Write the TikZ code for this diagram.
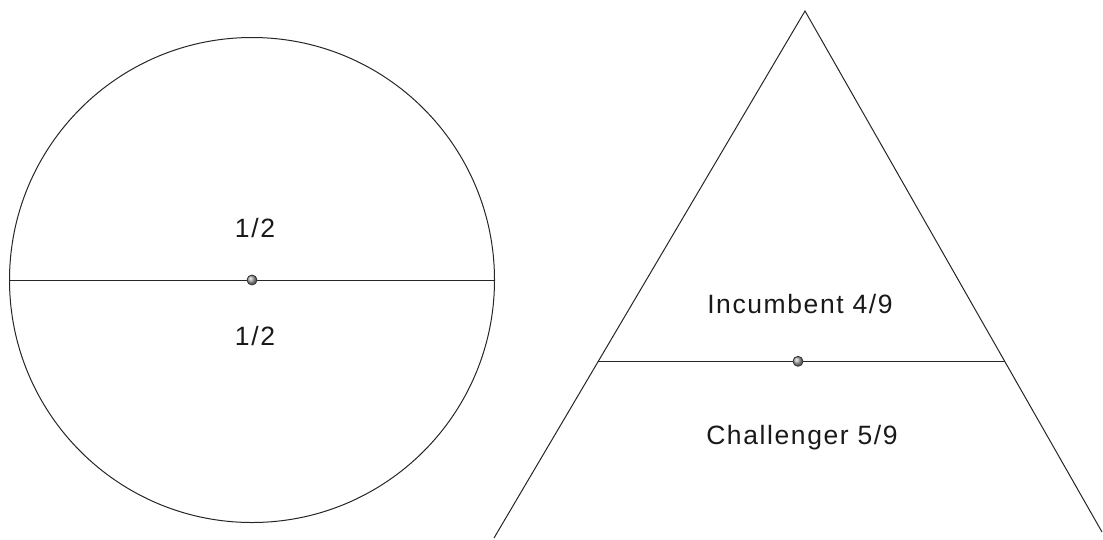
\documentclass[tikz,border=0pt]{standalone}
\usepackage{fontspec}
\setmainfont{Liberation Sans}[LetterSpace=6]
\begin{document}
\begin{tikzpicture}[x=1pt,y=-1pt,
  edge/.style={line width=1pt,draw=black!85},
  dot/.style={circle,inner sep=0pt,minimum size=10pt,draw=black!80,line width=0.8pt,shading=ball,ball color=gray!70},
  lab/.style={font=\fontsize{26.5}{28}\selectfont,text=black!90,anchor=base,inner sep=0pt}]
\useasboundingbox (0,0) rectangle (1103,539);
% circle
\coordinate (cc) at (252,280);
\draw[edge] (cc) circle[radius=242.5];
\coordinate (cl) at (9.5,280);
\coordinate (cr) at (494.5,280);
\draw[edge] (cl) -- (cr);
\node[dot] (d1) at (cc) {};
\node[lab] (h1) at (255,237) {1/2};
\node[lab] (h2) at (255,345) {1/2};
% triangle
\coordinate (apex) at (805,11);
\coordinate (bl) at (494,538);
\coordinate (br) at (1102,532);
\coordinate (ml) at (597.7,361.3);
\coordinate (mr) at (1005,361.3);
\draw[edge] (bl) -- (apex) -- (br);
\draw[edge] (ml) -- (mr);
\node[dot] (d2) at (798,361.3) {};
\node[lab] (inc) at (800,313) {Incumbent 4/9};
\node[lab] (cha) at (802,444) {Challenger 5/9};
\end{tikzpicture}
\end{document}
